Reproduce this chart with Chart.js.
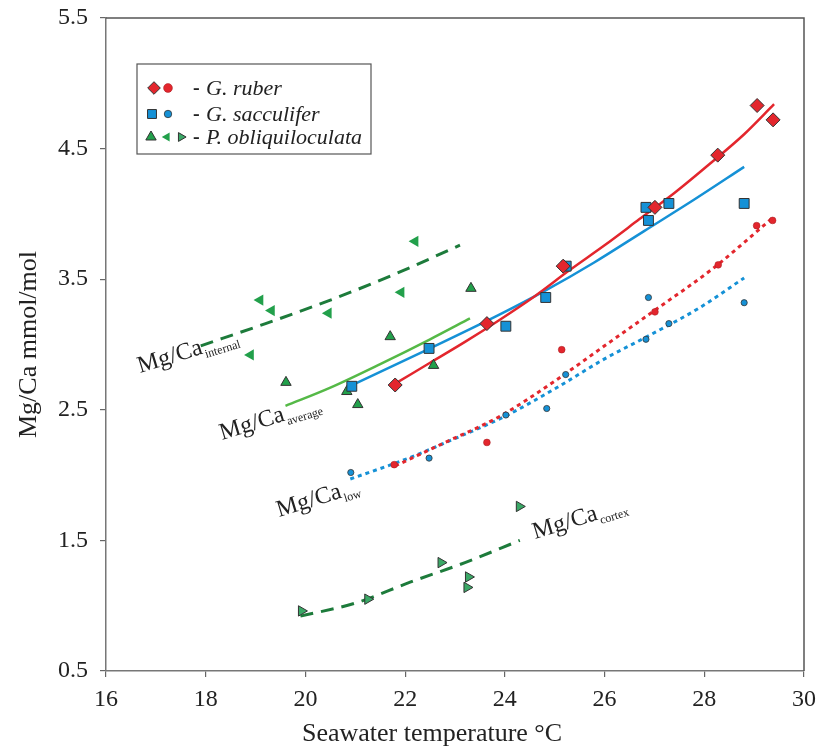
<!DOCTYPE html>
<html>
<head>
<meta charset="utf-8">
<title>Mg/Ca vs seawater temperature</title>
<script src="https://cdn.jsdelivr.net/npm/chart.js@4.4.1/dist/chart.umd.min.js"></script>
<style>
  body { margin: 0; background: #fff; }
</style>
</head>
<body>
<canvas id="mgca" width="819" height="749"></canvas>
<script>
// axis ticks
const xTicks = [16, 18, 20, 22, 24, 26, 28, 30];
const yTicks = [0.5, 1.5, 2.5, 3.5, 4.5, 5.5];

// G. ruber: average (diamonds) and low (circles)
const ruberT = [21.80, 23.64, 25.17, 27.01, 28.27, 29.06, 29.38];
const ruberAvg = [2.69, 3.16, 3.60, 4.05, 4.45, 4.83, 4.72];
const ruberLowT = [21.78, 23.64, 25.14, 27.01, 28.28, 29.05, 29.37];
const ruberLow = [2.08, 2.25, 2.96, 3.25, 3.61, 3.91, 3.95];

// G. sacculifer: average (squares) and low (circles)
const saccT = [20.93, 22.48, 24.02, 24.82, 25.23, 26.83, 26.88, 27.29, 28.80];
const saccAvg = [2.68, 2.97, 3.14, 3.36, 3.60, 4.05, 3.95, 4.08, 4.08];
const saccLowT = [20.91, 22.48, 24.02, 24.84, 25.22, 26.83, 26.88, 27.29, 28.80];
const saccLow = [2.02, 2.13, 2.46, 2.51, 2.77, 3.04, 3.36, 3.16, 3.32];

// P. obliquiloculata: average, internal, cortex
const obliqT = [19.61, 20.83, 21.05, 21.70, 22.57, 23.32];
const obliqAvg = [2.71, 2.64, 2.54, 3.06, 2.84, 3.43];
const internalT = [18.90, 19.09, 19.32, 20.46, 21.92, 22.20];
const internalV = [2.92, 3.34, 3.26, 3.24, 3.40, 3.79];
const cortexT = [19.92, 21.25, 22.72, 23.24, 23.27, 24.29];
const cortexV = [0.96, 1.05, 1.33, 1.14, 1.22, 1.76];

// fitted curves
const ruberFitT = [21.8, 22.5, 23.2, 23.9, 24.6, 25.3, 26.0, 26.7, 27.4, 28.1, 28.8, 29.4];
const ruberFitV = [2.70, 2.86, 3.02, 3.19, 3.37, 3.57, 3.76, 3.96, 4.16, 4.38, 4.61, 4.84];
const saccFitT = [21.0, 22.5, 23.9, 24.8, 25.8, 26.8, 27.8, 28.8];
const saccFitV = [2.70, 2.97, 3.23, 3.41, 3.63, 3.87, 4.11, 4.36];
const obliqFitT = [19.6, 20.5, 21.5, 22.5, 23.3];
const obliqFitV = [2.53, 2.67, 2.85, 3.04, 3.20];
const internalFitT = [17.9, 19.2, 20.5, 21.8, 23.1];
const internalFitV = [2.99, 3.16, 3.34, 3.54, 3.76];
const ruberLowFitT = [21.8, 22.8, 23.9, 25.0, 26.0, 27.0, 28.2, 29.4];
const ruberLowFitV = [2.07, 2.25, 2.45, 2.72, 2.99, 3.26, 3.59, 3.98];
const saccLowFitT = [20.9, 22.0, 23.0, 24.0, 25.0, 26.0, 26.9, 27.9, 28.8];
const saccLowFitV = [1.97, 2.12, 2.28, 2.45, 2.66, 2.89, 3.07, 3.28, 3.51];
const cortexFitT = [19.9, 21.0, 22.1, 23.2, 24.3];
const cortexFitV = [0.92, 1.02, 1.18, 1.33, 1.50];

const RED = '#e3262d';
const BLUE = '#1591d6';
const GREEN = '#22a04b';
const LIGHT_GREEN = '#55b947';
const DARK_GREEN = '#1d7b3b';
const EDGE = '#333333';
const SERIF = '"Liberation Serif", "Times New Roman", serif';

const pts = (xs, ys) => xs.map((x, i) => ({ x: x, y: ys[i] }));

// marker looks, shared by datasets and the hand drawn legend
const mk = {
  ruber:    { pointStyle: 'rectRot',  radius: 7,   rotation: 0,   fill: RED,   stroke: EDGE, bw: 1 },
  ruberLow: { pointStyle: 'circle',   radius: 3.4, rotation: 0,   fill: RED,   stroke: '#a01c20', bw: 0.5 },
  sacc:     { pointStyle: 'rect',     radius: 7,   rotation: 0,   fill: BLUE,  stroke: EDGE, bw: 1 },
  saccLow:  { pointStyle: 'circle',   radius: 3.1, rotation: 0,   fill: BLUE,  stroke: EDGE, bw: 0.8 },
  obliq:    { pointStyle: 'triangle', radius: 6,   rotation: 0,   fill: GREEN, stroke: EDGE, bw: 1 },
  internal: { pointStyle: 'triangle', radius: 6.5, rotation: -90, fill: GREEN, stroke: GREEN, bw: 0 },
  cortex:   { pointStyle: 'triangle', radius: 6,   rotation: 90,  fill: '#3aa866', stroke: EDGE, bw: 1 }
};

function markerSet(label, xs, ys, m) {
  return {
    label: label,
    data: pts(xs, ys),
    showLine: false,
    pointStyle: m.pointStyle,
    pointRadius: m.radius,
    pointRotation: m.rotation,
    backgroundColor: m.fill,
    borderColor: m.stroke,
    borderWidth: m.bw,
    order: 1
  };
}

function curveSet(label, xs, ys, color, width, dash) {
  return {
    label: label,
    data: pts(xs, ys),
    showLine: true,
    pointRadius: 0,
    borderColor: color,
    borderWidth: width,
    borderDash: dash,
    borderCapStyle: 'butt',
    cubicInterpolationMode: 'monotone',
    fill: false,
    order: 2
  };
}

function drawMarker(ctx, m, x, y, scale) {
  ctx.fillStyle = m.fill;
  ctx.strokeStyle = m.stroke;
  ctx.lineWidth = m.bw;
  Chart.helpers.drawPoint(ctx, { pointStyle: m.pointStyle, radius: m.radius * scale, rotation: m.rotation, borderWidth: m.bw }, x, y);
}

function curveLabel(ctx, x, y, sub) {
  ctx.save();
  ctx.translate(x, y);
  ctx.rotate(-17 * Math.PI / 180);
  ctx.fillStyle = '#222';
  ctx.textBaseline = 'alphabetic';
  ctx.font = '24px ' + SERIF;
  ctx.fillText('Mg/Ca', 0, 0);
  const w = ctx.measureText('Mg/Ca').width;
  ctx.font = '12px ' + SERIF;
  ctx.fillText(sub, w + 1, 5);
  ctx.restore();
}

const overlay = {
  id: 'overlay',
  afterDraw(chart) {
    const { ctx, chartArea: a } = chart;
    ctx.save();
    // top and right frame
    ctx.strokeStyle = '#555';
    ctx.lineWidth = 1.5;
    ctx.beginPath();
    ctx.moveTo(a.left, a.top);
    ctx.lineTo(a.right, a.top);
    ctx.lineTo(a.right, a.bottom);
    ctx.stroke();

    // x axis title, sits a little left of centre in the original
    ctx.fillStyle = '#222';
    ctx.font = '26px ' + SERIF;
    ctx.textAlign = 'center';
    ctx.textBaseline = 'alphabetic';
    ctx.fillText('Seawater temperature °C', 432, 741);
    ctx.textAlign = 'left';

    // legend box
    ctx.strokeStyle = '#555';
    ctx.lineWidth = 1.2;
    ctx.fillStyle = '#fff';
    ctx.fillRect(137, 64, 234, 90);
    ctx.strokeRect(137, 64, 234, 90);

    drawMarker(ctx, mk.ruber, 154, 88, 0.9);
    drawMarker(ctx, mk.ruberLow, 168, 88, 1.3);
    drawMarker(ctx, mk.sacc, 152, 114, 0.9);
    drawMarker(ctx, mk.saccLow, 168, 114, 1.2);
    drawMarker(ctx, mk.obliq, 151, 137, 1);
    drawMarker(ctx, mk.internal, 167, 137, 0.8);
    drawMarker(ctx, mk.cortex, 181, 137, 0.85);

    ctx.fillStyle = '#222';
    ctx.textBaseline = 'middle';
    const rows = [[88, 'G. ruber'], [114, 'G. sacculifer'], [137, 'P. obliquiloculata']];
    rows.forEach(([y, name]) => {
      ctx.font = 'bold 20px ' + SERIF;
      ctx.fillText('-', 193, y + 1);
      ctx.font = 'italic 22px ' + SERIF;
      ctx.fillText(name, 206, y + 1);
    });

    // curve labels
    curveLabel(ctx, 140, 373, 'internal');
    curveLabel(ctx, 222, 440, 'average');
    curveLabel(ctx, 279, 517, 'low');
    curveLabel(ctx, 535, 539, 'cortex');
    ctx.restore();
  }
};

new Chart(document.getElementById('mgca'), {
  type: 'scatter',
  data: {
    datasets: [
      markerSet('G. ruber', ruberT, ruberAvg, mk.ruber),
      markerSet('G. sacculifer', saccT, saccAvg, mk.sacc),
      markerSet('G. ruber low', ruberLowT, ruberLow, mk.ruberLow),
      markerSet('G. sacculifer low', saccLowT, saccLow, mk.saccLow),
      markerSet('P. obliquiloculata', obliqT, obliqAvg, mk.obliq),
      markerSet('P. obliquiloculata internal', internalT, internalV, mk.internal),
      markerSet('P. obliquiloculata cortex', cortexT, cortexV, mk.cortex),
      curveSet('ruber fit', ruberFitT, ruberFitV, RED, 2.5, []),
      curveSet('sacculifer fit', saccFitT, saccFitV, BLUE, 2.5, []),
      curveSet('obliquiloculata fit', obliqFitT, obliqFitV, LIGHT_GREEN, 2.5, []),
      curveSet('internal fit', internalFitT, internalFitV, DARK_GREEN, 3, [13, 8]),
      curveSet('ruber low fit', ruberLowFitT, ruberLowFitV, RED, 3, [4, 4]),
      curveSet('sacculifer low fit', saccLowFitT, saccLowFitV, BLUE, 3, [4, 4]),
      curveSet('cortex fit', cortexFitT, cortexFitV, DARK_GREEN, 3, [13, 8])
    ]
  },
  options: {
    responsive: false,
    animation: false,
    events: [],
    layout: { padding: { top: 18, right: 15, bottom: 0, left: 0 } },
    plugins: { legend: { display: false }, tooltip: { enabled: false } },
    scales: {
      x: {
        type: 'linear',
        min: 16,
        max: 30,
        afterBuildTicks: s => { s.ticks = xTicks.map(v => ({ value: v })); },
        afterFit: s => { s.height = 78; s.paddingLeft = 0; s.paddingRight = 0; },
        ticks: { font: { family: SERIF, size: 24 }, color: '#222', padding: 8, maxRotation: 0 },
        grid: { display: true, drawOnChartArea: false, drawTicks: true, tickLength: 6, color: '#666', lineWidth: 1.2 },
        border: { display: true, color: '#777', width: 1.5 },
        title: { display: false }
      },
      y: {
        type: 'linear',
        min: 0.5,
        max: 5.5,
        afterBuildTicks: s => { s.ticks = yTicks.map(v => ({ value: v })); },
        afterFit: s => { s.width = 106; s.paddingTop = 0; s.paddingBottom = 0; },
        ticks: { font: { family: SERIF, size: 24 }, color: '#222', padding: 12, callback: v => v.toFixed(1) },
        grid: { display: true, drawOnChartArea: false, drawTicks: true, tickLength: 6, color: '#666', lineWidth: 1.2 },
        border: { display: true, color: '#777', width: 1.5 },
        title: { display: true, text: 'Mg/Ca mmol/mol', font: { family: SERIF, size: 26 }, color: '#222', padding: { top: 14, bottom: 0 } }
      }
    }
  },
  plugins: [overlay]
});
</script>
</body>
</html>
